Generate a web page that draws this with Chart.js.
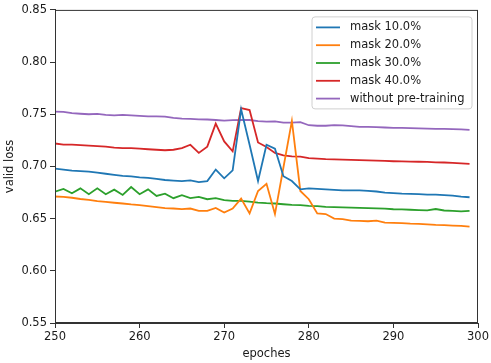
<!DOCTYPE html>
<html>
<head>
<meta charset="utf-8">
<script src="https://cdn.jsdelivr.net/npm/chart.js@4.4.0/dist/chart.umd.min.js"></script>
<style>
  html, body { margin: 0; padding: 0; background: #fff; }
  #wrap { width: 491px; height: 363px; }
</style>
</head>
<body>
<div id="wrap"><canvas id="chart" width="491" height="363"></canvas></div>
<script>
// Эпохи (ось X)
const epochs = [250, 251, 252, 253, 254, 255, 256, 257, 258, 259,
  260, 261, 262, 263, 264, 265, 266, 267, 268, 269,
  270, 271, 272, 273, 274, 275, 276, 277, 278, 279,
  280, 281, 282, 283, 284, 285, 286, 287, 288, 289,
  290, 291, 292, 293, 294, 295, 296, 297, 298, 299];

// Значения valid loss по сериям
const mask10 = [0.698, 0.697, 0.696, 0.6955, 0.695, 0.694, 0.693, 0.692, 0.691, 0.6905,
  0.6895, 0.689, 0.688, 0.687, 0.6865, 0.686, 0.6867, 0.685, 0.686, 0.697,
  0.6886, 0.6962, 0.7547, 0.7208, 0.686, 0.7208, 0.717, 0.6907, 0.686, 0.6781,
  0.679, 0.6785, 0.678, 0.6775, 0.677, 0.677, 0.677, 0.6765, 0.676, 0.675,
  0.6745, 0.674, 0.6738, 0.6735, 0.673, 0.673, 0.6725, 0.672, 0.671, 0.6705];

const mask20 = [0.6712, 0.6708, 0.670, 0.6688, 0.668, 0.6668, 0.666, 0.6652, 0.6645, 0.6636,
  0.663, 0.662, 0.661, 0.660, 0.6597, 0.6592, 0.6597, 0.6575, 0.6575, 0.6603,
  0.6559, 0.6597, 0.6692, 0.655, 0.6765, 0.6834, 0.6544, 0.699, 0.7436, 0.6765,
  0.6686, 0.655, 0.6544, 0.650, 0.6496, 0.648, 0.6478, 0.6475, 0.648, 0.6462,
  0.646, 0.6456, 0.6452, 0.645, 0.6445, 0.644, 0.6437, 0.6433, 0.643, 0.6423];

const mask30 = [0.6758, 0.6785, 0.6743, 0.679, 0.6734, 0.679, 0.6734, 0.6778, 0.6727, 0.6803,
  0.6734, 0.678, 0.6717, 0.6739, 0.6696, 0.6724, 0.6696, 0.6708, 0.6686, 0.6696,
  0.6677, 0.667, 0.667, 0.6663, 0.6654, 0.6648, 0.6645, 0.6638, 0.6632, 0.6629,
  0.6623, 0.662, 0.6613, 0.661, 0.6608, 0.6605, 0.6603, 0.660, 0.6598, 0.6595,
  0.659, 0.6588, 0.6585, 0.6582, 0.658, 0.6592, 0.6578, 0.6575, 0.657, 0.6575];

const mask40 = [0.722, 0.721, 0.721, 0.7205, 0.720, 0.7195, 0.719, 0.718, 0.7175, 0.7175,
  0.717, 0.7165, 0.716, 0.7155, 0.716, 0.7175, 0.7208, 0.713, 0.719, 0.741,
  0.724, 0.7145, 0.756, 0.754, 0.723, 0.7186, 0.713, 0.7107, 0.7097, 0.7094,
  0.708, 0.7075, 0.707, 0.7068, 0.7065, 0.7063, 0.706, 0.7058, 0.7055, 0.7053,
  0.705, 0.7048, 0.7046, 0.7045, 0.7043, 0.704, 0.7038, 0.7035, 0.703, 0.7025];

const noPretrain = [0.7525, 0.7523, 0.751, 0.7505, 0.750, 0.7503, 0.7495, 0.749, 0.7495, 0.749,
  0.7485, 0.748, 0.748, 0.7478, 0.7465, 0.7458, 0.7455, 0.7452, 0.745, 0.7445,
  0.744, 0.7443, 0.7445, 0.7445, 0.7435, 0.743, 0.7432, 0.742, 0.742, 0.7425,
  0.7395, 0.739, 0.739, 0.7395, 0.7393, 0.7387, 0.738, 0.738, 0.7377, 0.7373,
  0.737, 0.737, 0.7368, 0.7365, 0.7362, 0.736, 0.736, 0.7357, 0.7355, 0.735];

const seriesNames = ['mask 10.0%', 'mask 20.0%', 'mask 30.0%', 'mask 40.0%', 'without pre-training'];
const seriesColors = ['#1f77b4', '#ff7f0e', '#2ca02c', '#d62728', '#9467bd'];
const seriesData = [mask10, mask20, mask30, mask40, noPretrain];

const yTicks = [0.55, 0.60, 0.65, 0.70, 0.75, 0.80, 0.85];
const xTicks = [250, 260, 270, 280, 290, 300];

const textColor = '#1a1a1a';
const fontFamily = '"DejaVu Sans", sans-serif';
const fontSize = 11.5;

// Легенда внутри области графика + рамка со всех сторон
const boxPlugin = {
  id: 'boxAndLegend',
  afterDraw(chart) {
    const ctx = chart.ctx;
    const a = chart.chartArea;
    ctx.save();
    // рамка
    ctx.strokeStyle = '#333';
    ctx.lineWidth = 1;
    ctx.strokeRect(a.left + 0.5, a.top + 0.5, a.right - a.left - 1, a.bottom - a.top - 1);

    // легенда
    const bx = a.right - 166, by = a.top + 7, bw = 160, bh = 92;
    const r = 3;
    ctx.beginPath();
    ctx.moveTo(bx + r, by);
    ctx.arcTo(bx + bw, by, bx + bw, by + bh, r);
    ctx.arcTo(bx + bw, by + bh, bx, by + bh, r);
    ctx.arcTo(bx, by + bh, bx, by, r);
    ctx.arcTo(bx, by, bx + bw, by, r);
    ctx.closePath();
    ctx.fillStyle = 'rgba(255,255,255,0.8)';
    ctx.fill();
    ctx.strokeStyle = '#d0d0d0';
    ctx.stroke();

    ctx.font = fontSize + 'px ' + fontFamily;
    ctx.textBaseline = 'middle';
    ctx.textAlign = 'left';
    chart.data.datasets.forEach((ds, i) => {
      const yy = by + 10.5 + i * 17.8;
      ctx.strokeStyle = ds.borderColor;
      ctx.lineWidth = 1.8;
      ctx.beginPath();
      ctx.moveTo(bx + 4, yy);
      ctx.lineTo(bx + 28, yy);
      ctx.stroke();
      ctx.fillStyle = textColor;
      ctx.fillText(ds.label, bx + 38, yy);
    });
    ctx.restore();
  }
};

const ctx = document.getElementById('chart').getContext('2d');
new Chart(ctx, {
  type: 'line',
  data: {
    datasets: seriesData.map((arr, i) => ({
      label: seriesNames[i],
      data: epochs.map((e, j) => ({ x: e, y: arr[j] })),
      borderColor: seriesColors[i],
      backgroundColor: seriesColors[i],
      borderWidth: 1.8,
      pointRadius: 0,
      tension: 0,
      fill: false
    }))
  },
  options: {
    responsive: false,
    animation: false,
    layout: { padding: { top: 7, right: 13, left: 0, bottom: 0 } },
    plugins: {
      legend: { display: false },
      tooltip: { enabled: false }
    },
    scales: {
      x: {
        type: 'linear',
        min: 250,
        max: 300,
        afterBuildTicks: s => { s.ticks = xTicks.map(v => ({ value: v })); },
        afterFit: s => { s.height = 40; },
        grid: { drawOnChartArea: false, drawTicks: true, tickLength: 5, color: '#333' },
        border: { display: true, color: '#333' },
        ticks: {
          color: textColor,
          font: { family: fontFamily, size: fontSize },
          padding: 2,
          maxRotation: 0,
          callback: v => String(v)
        },
        title: {
          display: true,
          text: 'epoches',
          color: textColor,
          font: { family: fontFamily, size: fontSize },
          padding: { top: 0, bottom: 2 }
        }
      },
      y: {
        min: 0.55,
        max: 0.85,
        afterBuildTicks: s => { s.ticks = yTicks.map(v => ({ value: v })); },
        afterFit: s => { s.width = 55; },
        grid: { drawOnChartArea: false, drawTicks: true, tickLength: 5, color: '#333' },
        border: { display: true, color: '#333' },
        ticks: {
          color: textColor,
          font: { family: fontFamily, size: fontSize },
          padding: 3,
          callback: v => Number(v).toFixed(2)
        },
        title: {
          display: true,
          text: 'valid loss',
          color: textColor,
          font: { family: fontFamily, size: fontSize },
          padding: { top: 3, bottom: 0 }
        }
      }
    }
  },
  plugins: [boxPlugin]
});
</script>
</body>
</html>
